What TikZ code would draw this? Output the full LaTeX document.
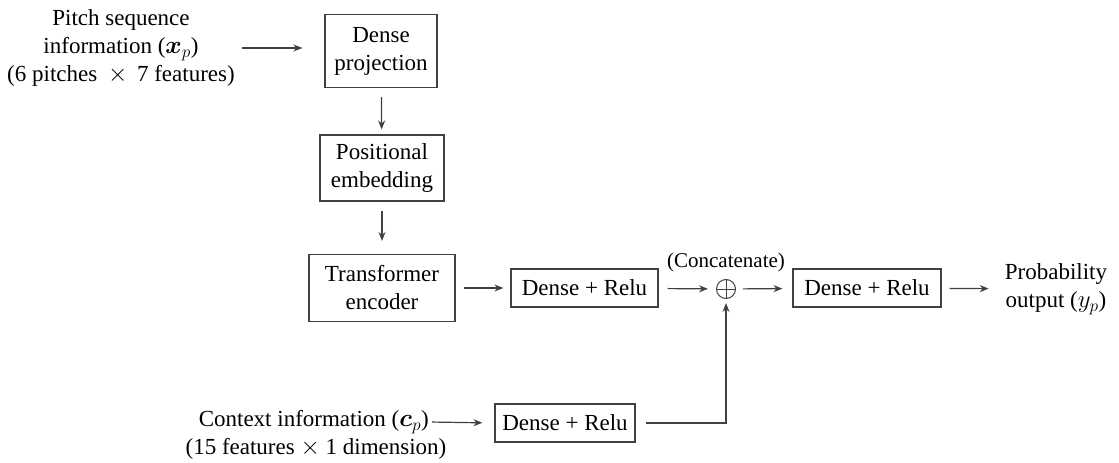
\documentclass[tikz,border=0pt]{standalone}
\usepackage{amsmath}
\usepackage{fontspec}
\setmainfont{LiberationSerif}[Extension=.ttf, UprightFont=*-Regular, BoldFont=*-Bold, ItalicFont=*-Italic, BoldItalicFont=*-BoldItalic]
\usetikzlibrary{arrows.meta}
\begin{document}
\begin{tikzpicture}[x=1pt,y=-1pt,
  every node/.style={font=\rmfamily\fontsize{23}{28}\selectfont, text=black},
  blk/.style={draw=black!75, line width=1.1pt, inner sep=0pt, align=center},
  txt/.style={align=center, inner sep=0pt},
  arr/.style={draw=black!75, line width=1.2pt, -{Stealth[length=9pt,width=7pt]}},
  ln/.style={draw=black!75, line width=1.2pt}]
\useasboundingbox (0,0) rectangle (1119,463);
\node[txt] (pitch) at (121,48) {Pitch sequence\\information ($\boldsymbol{x}_p$)\\(6 pitches\hspace{5pt} $\times$ \hspace{4pt}7 features)};
\node[blk, minimum width=112pt, minimum height=73pt] (dp) at (381,51) {Dense\\projection};
\node[blk, minimum width=124pt, minimum height=66pt] (pe) at (382,168) {Positional\\embedding};
\node[blk, minimum width=146pt, minimum height=67pt] (te) at (382,288) {Transformer\\encoder};
\node[blk, minimum width=147pt, minimum height=38pt] (d1) at (584.5,288) {Dense + Relu};
\node[circle, draw=black!75, line width=1pt, minimum size=19pt, inner sep=0pt,
  path picture={\draw[black!75, line width=1pt] (path picture bounding box.north) -- (path picture bounding box.south)
  (path picture bounding box.west) -- (path picture bounding box.east);}] (cat) at (726,289) {};
\node[txt, font=\rmfamily\fontsize{21}{24}\selectfont] (lbl) at (726,262) {(Concatenate)};
\node[blk, minimum width=148pt, minimum height=38pt] (d2) at (867,288) {Dense + Relu};
\node[txt] (out) at (1056,289) {Probability\\output ($y_p$)};
\node[blk, minimum width=140pt, minimum height=38pt] (d3) at (565,423) {Dense + Relu};
\node[txt, anchor=east] (ctx1) at (429,422) {Context information ($\boldsymbol{c}_p$)};
\node[txt] (ctx2) at (316,449) {(15 features $\times$ 1 dimension)};

\draw[arr, shorten <=7pt, shorten >=22pt] (pitch.east) -- (pitch.east -| dp.west);
\draw[arr, shorten <=9pt, shorten >=5pt] (dp) -- (pe);
\draw[arr, shorten <=9pt, shorten >=13pt] (pe) -- (te);
\draw[arr, shorten <=8pt, shorten >=7pt] (te) -- (d1);
\draw[arr, shorten <=9pt, shorten >=8pt] (d1) -- (cat);
\draw[arr, shorten <=7pt, shorten >=10pt] (cat) -- (d2);
\draw[arr, shorten <=8pt, shorten >=16pt] (d2) -- (out);
\draw[arr, shorten <=3pt, shorten >=12pt] (ctx1.east) -- (d3.west);
\draw[arr, shorten <=10pt, shorten >=4pt] (d3.east) -| (cat.south);
\end{tikzpicture}
\end{document}
